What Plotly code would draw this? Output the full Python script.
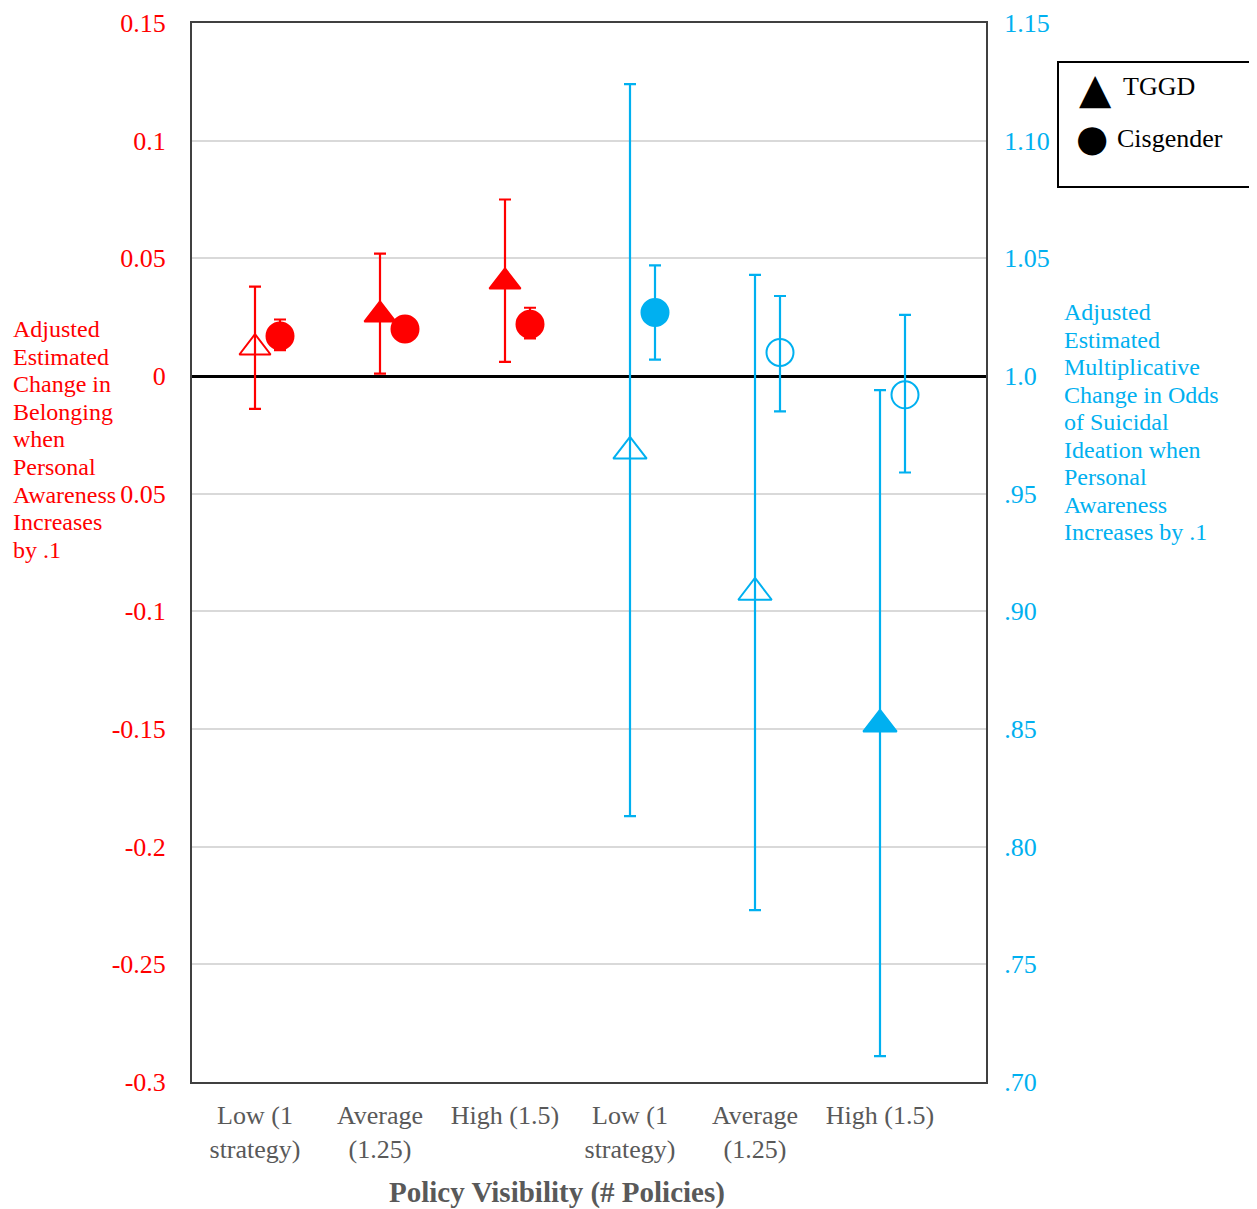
import plotly.graph_objects as go

# ---------------- data ----------------
group_labels = ["Low (1<br>strategy)", "Average<br>(1.25)", "High (1.5)",
                "Low (1<br>strategy)", "Average<br>(1.25)", "High (1.5)"]

# Belonging (left axis)
belong_tggd = [0.012, 0.026, 0.040]
belong_tggd_lo = [-0.014, 0.001, 0.006]
belong_tggd_hi = [0.038, 0.052, 0.075]
belong_tggd_sig = [False, True, True]

belong_cis = [0.017, 0.020, 0.022]
belong_cis_lo = [0.011, 0.016, 0.016]
belong_cis_hi = [0.024, 0.024, 0.029]
belong_cis_sig = [True, True, True]

# Odds of suicidal ideation (right axis)
odds_tggd = [0.968, 0.908, 0.852]
odds_tggd_lo = [0.813, 0.773, 0.711]
odds_tggd_hi = [1.124, 1.043, 0.994]
odds_tggd_sig = [False, False, True]

odds_cis = [1.027, 1.010, 0.992]
odds_cis_lo = [1.007, 0.985, 0.959]
odds_cis_hi = [1.047, 1.034, 1.026]
odds_cis_sig = [True, False, False]

left_tickvals = [0.15, 0.10, 0.05, 0.0, -0.05, -0.10, -0.15, -0.20, -0.25, -0.30]
left_ticktext = ["0.15", "0.1", "0.05", "0", "0.05", "-0.1", "-0.15", "-0.2", "-0.25", "-0.3"]
right_tickvals = [1.15, 1.10, 1.05, 1.00, 0.95, 0.90, 0.85, 0.80, 0.75, 0.70]
right_ticktext = ["1.15", "1.10", "1.05", "1.0", ".95", ".90", ".85", ".80", ".75", ".70"]

left_title_lines = ["Adjusted", "Estimated", "Change in", "Belonging", "when",
                    "Personal", "Awareness", "Increases", "by .1"]
right_title_lines = ["Adjusted", "Estimated", "Multiplicative", "Change in Odds",
                     "of Suicidal", "Ideation when", "Personal", "Awareness",
                     "Increases by .1"]

# ---------------- style ----------------
RED = "#FF0000"
BLUE = "#00B0F0"
GRAY = "#595959"
SERIF = "Liberation Serif, Times New Roman, serif"
CIS_OFFSET = 0.2

# the page body adds an 8px margin, so the figure is laid out 8px smaller
OFF = 8
W, H = 1257 - OFF, 1209 - OFF
PLOT_L, PLOT_R, PLOT_T, PLOT_B = 192, 986, 23, 1082   # reference pixels
ML, MT = PLOT_L - OFF, PLOT_T - OFF
MR, MB = W - (PLOT_R - OFF), H - (PLOT_B - OFF)
PW, PH = PLOT_R - PLOT_L, PLOT_B - PLOT_T


def px2x(px):
    return (px - PLOT_L) / PW


def py2y(py):
    return (PLOT_B - py) / PH


def syms(base, sig):
    return [base if s else base + "-open" for s in sig]


def err(vals, lo, hi):
    return dict(type="data", symmetric=False,
                array=[h - v for v, h in zip(vals, hi)],
                arrayminus=[v - l for v, l in zip(vals, lo)])


fig = go.Figure()

x_left = list(range(3))
x_right = [i + 3 for i in range(3)]


def add(xs, ys, lo, hi, sig, base, color, size, yaxis):
    e = err(ys, lo, hi)
    e.update(color=color, thickness=2.2, width=6)
    fig.add_trace(go.Scatter(
        x=xs, y=ys, mode="markers", yaxis=yaxis, showlegend=False,
        error_y=e,
        marker=dict(symbol=syms(base, sig), size=size, color=color,
                    line=dict(color=color, width=2)),
    ))


add(x_left, belong_tggd, belong_tggd_lo, belong_tggd_hi, belong_tggd_sig,
    "triangle-up", RED, 27, "y")
add([x + CIS_OFFSET for x in x_left], belong_cis, belong_cis_lo, belong_cis_hi,
    belong_cis_sig, "circle", RED, 27, "y")
add(x_right, odds_tggd, odds_tggd_lo, odds_tggd_hi, odds_tggd_sig,
    "triangle-up", BLUE, 29, "y2")
add([x + CIS_OFFSET for x in x_right], odds_cis, odds_cis_lo, odds_cis_hi,
    odds_cis_sig, "circle", BLUE, 27, "y2")

annotations = []
# left title
for i, t in enumerate(left_title_lines):
    annotations.append(dict(text=t, xref="paper", yref="paper",
                            x=px2x(11), y=py2y(329 + 27.6 * i),
                            xanchor="left", yanchor="middle", showarrow=False,
                            font=dict(family=SERIF, size=24, color=RED)))
# right title
for i, t in enumerate(right_title_lines):
    annotations.append(dict(text=t, xref="paper", yref="paper",
                            x=px2x(1062), y=py2y(312 + 27.5 * i),
                            xanchor="left", yanchor="middle", showarrow=False,
                            font=dict(family=SERIF, size=24, color=BLUE)))
# x-axis title
annotations.append(dict(text="<b>Policy Visibility (# Policies)</b>",
                        xref="paper", yref="paper", x=px2x(557), y=py2y(1192),
                        xanchor="center", yanchor="middle", showarrow=False,
                        font=dict(family=SERIF, size=29, color=GRAY)))
# legend
annotations += [
    dict(text="▲", xref="paper", yref="paper", x=px2x(1095), y=py2y(88),
         xanchor="center", yanchor="middle", showarrow=False,
         font=dict(family="DejaVu Sans", size=42, color="black")),
    dict(text="TGGD", xref="paper", yref="paper", x=px2x(1121), y=py2y(86),
         xanchor="left", yanchor="middle", showarrow=False,
         font=dict(family=SERIF, size=26, color="black")),
    dict(text="●", xref="paper", yref="paper", x=px2x(1092), y=py2y(139),
         xanchor="center", yanchor="middle", showarrow=False,
         font=dict(family="DejaVu Sans", size=37, color="black")),
    dict(text="Cisgender", xref="paper", yref="paper", x=px2x(1115), y=py2y(138),
         xanchor="left", yanchor="middle", showarrow=False,
         font=dict(family=SERIF, size=26, color="black")),
]

shapes = [dict(type="rect", xref="paper", yref="paper",
               x0=px2x(1058), x1=px2x(1250), y0=py2y(62), y1=py2y(187),
               line=dict(color="black", width=2), fillcolor="rgba(0,0,0,0)")]

fig.update_layout(
    width=W, height=H,
    margin=dict(l=ML, r=MR, t=MT, b=MB, pad=0, autoexpand=False),
    paper_bgcolor="white", plot_bgcolor="white",
    font=dict(family=SERIF),
    showlegend=False,
    annotations=annotations,
    shapes=shapes,
    xaxis=dict(range=[-0.504, 5.848], tickvals=list(range(6)), ticktext=group_labels,
               showgrid=False, zeroline=False, showline=True, mirror=True,
               linecolor="#404040", linewidth=2, ticks="", automargin=False,
               ticklabelstandoff=9,
               tickfont=dict(family=SERIF, size=26, color=GRAY)),
    yaxis=dict(range=[-0.30, 0.15], tickvals=left_tickvals, ticktext=left_ticktext,
               showgrid=True, gridcolor="#D9D9D9", gridwidth=2,
               zeroline=True, zerolinecolor="black", zerolinewidth=3,
               showline=True, mirror=True, linecolor="#404040", linewidth=2,
               ticks="", ticklabelstandoff=19, automargin=False,
               tickfont=dict(family=SERIF, size=26, color=RED)),
    yaxis2=dict(range=[0.70, 1.15], tickvals=right_tickvals, ticktext=right_ticktext,
                overlaying="y", side="right", showgrid=False, zeroline=False,
                showline=True, linecolor="#404040", linewidth=2, ticks="",
                ticklabelstandoff=11, automargin=False,
                tickfont=dict(family=SERIF, size=26, color=BLUE)),
)

fig.write_html("out.html")
